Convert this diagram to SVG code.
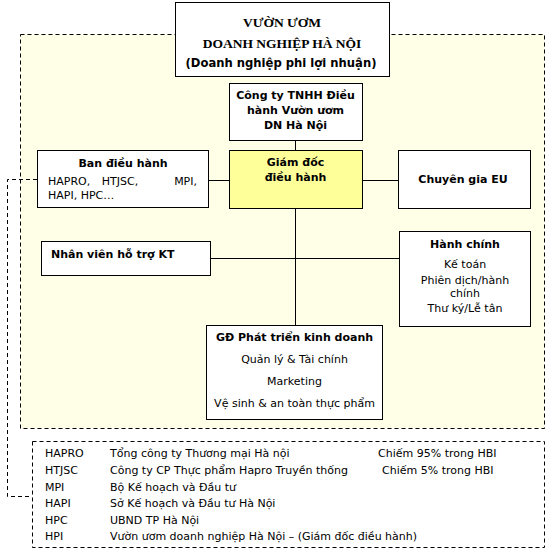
<svg xmlns="http://www.w3.org/2000/svg" width="553" height="557" viewBox="0 0 553 557">
<style>
.box{fill:#fff;stroke:#000;stroke-width:1}
.dash{fill:none;stroke:#000;stroke-width:1;stroke-dasharray:4 3}
.ln{fill:none;stroke:#000;stroke-width:1}
text{font-family:"DejaVu Sans",Verdana,sans-serif;font-size:11px;fill:#000}
.b{font-weight:bold}
.c{text-anchor:middle}
.serif{font-family:"Liberation Serif","Times New Roman",serif;font-weight:bold;font-size:13.5px}
</style>
<rect width="553" height="557" fill="#fff"/>
<rect x="20.5" y="34.5" width="524" height="394" class="dash" style="fill:#FFFFE8"/>
<g id="connectors">
<line class="ln" x1="295.5" y1="141" x2="295.5" y2="150"/>
<line class="ln" x1="295.5" y1="209" x2="295.5" y2="325"/>
<line class="ln" x1="209" y1="180.5" x2="229" y2="180.5"/>
<line class="ln" x1="362" y1="180.5" x2="398" y2="180.5"/>
<line class="ln" x1="211" y1="258.5" x2="399" y2="258.5"/>
<polyline class="dash" points="37,179.5 7.5,179.5 7.5,496.5 32,496.5"/>
</g>
<g id="top">
<rect class="box" x="175.5" y="2.5" width="214" height="74"/>
<text class="serif c" x="282" y="27">VƯỜN ƯƠM</text>
<text class="serif c" x="282" y="48">DOANH NGHIỆP HÀ NỘI</text>
<text class="b c" x="281" y="67" style="font-size:11.6px">(Doanh nghiệp phi lợi nhuận)</text>
</g>
<g id="cty">
<rect class="box" x="229.5" y="83.5" width="133" height="57"/>
<text class="b c" x="295.5" y="99">Công ty TNHH Điều</text>
<text class="b c" x="295.5" y="114">hành Vườn ươm</text>
<text class="b c" x="295.5" y="129">DN Hà Nội</text>
</g>
<g id="giamdoc">
<rect class="box" x="229.5" y="150.5" width="133" height="58" style="fill:#FFFF99"/>
<text class="b c" x="295.5" y="166">Giám đốc</text>
<text class="b c" x="295.5" y="181">điều hành</text>
</g>
<g id="ban">
<rect class="box" x="37.5" y="150.5" width="171" height="57"/>
<text class="b c" x="123" y="167">Ban điều hành</text>
<text x="48" y="185">HAPRO,</text>
<text x="120" y="185" class="c">HTJSC,</text>
<text x="197" y="185" style="text-anchor:end">MPI,</text>
<text x="48" y="199">HAPI, HPC…</text>
</g>
<g id="eu">
<rect class="box" x="398.5" y="150.5" width="132" height="58"/>
<text class="b c" x="463" y="183">Chuyên gia EU</text>
</g>
<g id="nhanvien">
<rect class="box" x="41.5" y="241.5" width="169" height="34"/>
<text class="b" x="51" y="258">Nhân viên hỗ trợ KT</text>
</g>
<g id="hanhchinh">
<rect class="box" x="399.5" y="231.5" width="131" height="95"/>
<text class="b c" x="465" y="248">Hành chính</text>
<text class="c" x="465" y="268">Kế toán</text>
<text class="c" x="465" y="284">Phiên dịch/hành</text>
<text class="c" x="465" y="297">chính</text>
<text class="c" x="465" y="312">Thư ký/Lễ tân</text>
</g>
<g id="gd">
<rect class="box" x="206.5" y="325.5" width="176" height="94"/>
<text class="b c" x="294.5" y="341">GĐ Phát triển kinh doanh</text>
<text class="c" x="294.5" y="363">Quản lý &amp; Tài chính</text>
<text class="c" x="294.5" y="385">Marketing</text>
<text class="c" x="294.5" y="407">Vệ sinh &amp; an toàn thực phẩm</text>
</g>
<g id="legend">
<rect class="dash" x="32.5" y="441.5" width="512" height="106"/>
<text x="45" y="457">HAPRO</text><text x="110" y="457">Tổng công ty Thương mại Hà nội</text><text x="378" y="457">Chiếm 95% trong HBI</text>
<text x="45" y="474">HTJSC</text><text x="110" y="474">Công ty CP Thực phẩm Hapro Truyền thống</text><text x="382" y="474">Chiếm 5% trong HBI</text>
<text x="45" y="491">MPI</text><text x="110" y="491">Bộ Kế hoạch và Đầu tư</text>
<text x="45" y="507">HAPI</text><text x="110" y="507">Sở Kế hoạch và Đầu tư Hà Nội</text>
<text x="45" y="524">HPC</text><text x="110" y="524">UBND TP Hà Nội</text>
<text x="45" y="540">HPI</text><text x="110" y="540">Vườn ươm doanh nghiệp Hà Nội – (Giám đốc điều hành)</text>
</g>
</svg>
